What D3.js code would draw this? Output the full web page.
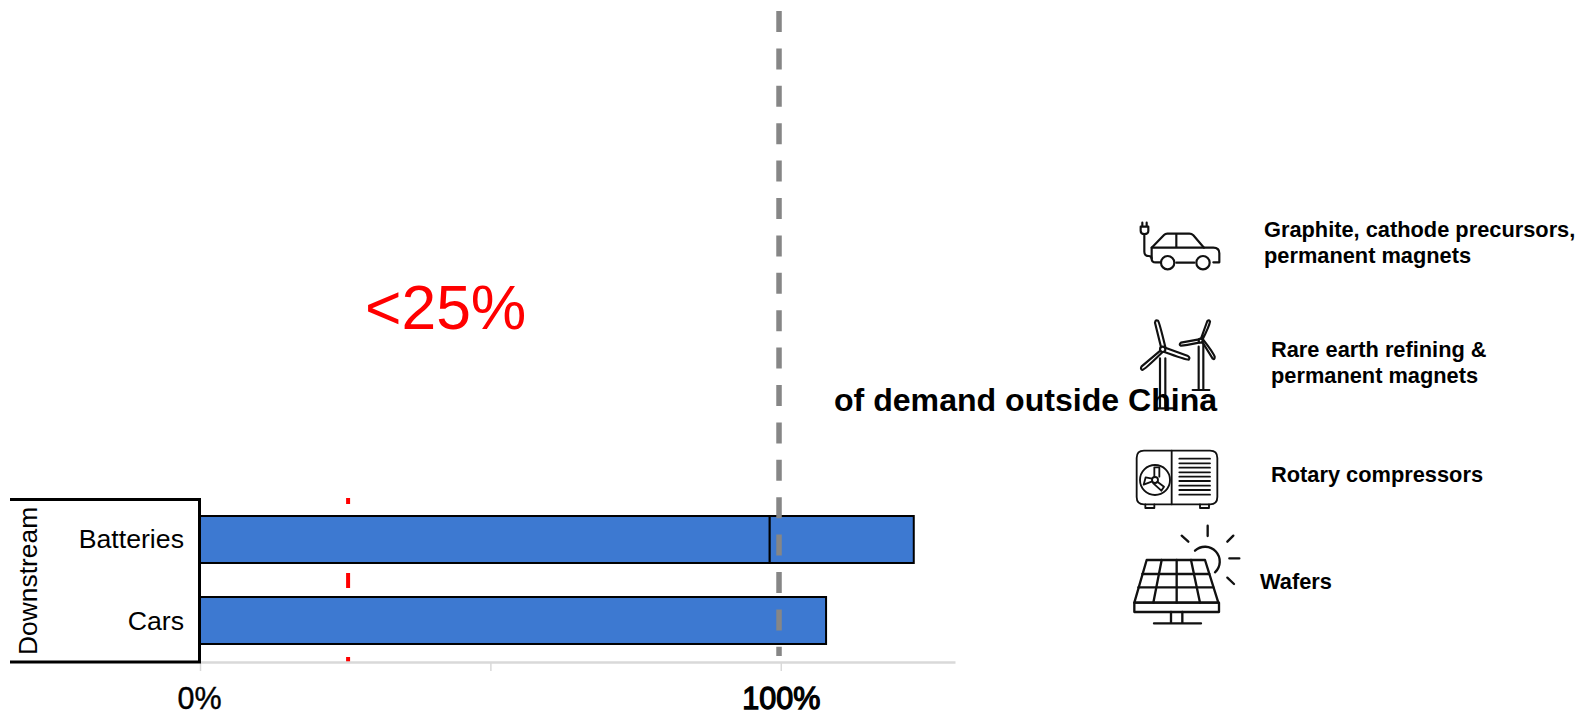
<!DOCTYPE html>
<html>
<head>
<meta charset="utf-8">
<script src="https://cdn.jsdelivr.net/npm/d3@7/dist/d3.min.js"></script>
<style>
html,body{margin:0;padding:0;background:#fff;overflow:hidden}
svg{display:block}
text{font-family:"Liberation Sans",Arial,sans-serif}
</style>
</head>
<body>
<svg id="chart" width="1579" height="712"></svg>
<script>
const categories = ["Batteries", "Cars"];
const firstSegment = [98.1, 107.8];
const secondSegment = [24.8, 0];
const axisTicks = [0, 50, 100];
const labelledTicks = [0, 100];
const thresholdValue = 25.5;
const fullDemandValue = 99.7;
const groupLabel = "Downstream";
const calloutLabel = "<25%";
const calloutCaption = "of demand outside China";
const inputLabels = [
  {lines:["Graphite, cathode precursors,","permanent magnets"], x:1264, y:237},
  {lines:["Rare earth refining &","permanent magnets"], x:1271, y:357},
  {lines:["Rotary compressors"], x:1271, y:482},
  {lines:["Wafers"], x:1260, y:589}
];

const svg = d3.select("#chart");
const x = d3.scaleLinear().domain([0,130]).range([200,955]);
const y = d3.scaleBand().domain(categories).range([499,661]).paddingInner(0.42).paddingOuter(0.21);
const axisY = 662;

// threshold line (beneath the bars)
svg.append("line")
  .attr("x1",x(thresholdValue)).attr("x2",x(thresholdValue))
  .attr("y1",axisY).attr("y2",498)
  .attr("stroke","#ff0000").attr("stroke-width",4)
  .attr("stroke-dasharray","5,69,15,69,6");

// axis
const axis = d3.axisBottom(x).tickValues(axisTicks).tickSizeInner(9).tickSizeOuter(0)
  .tickFormat(d => labelledTicks.includes(d) ? d + "%" : "");
const gAxis = svg.append("g").attr("transform",`translate(0,${axisY})`).call(axis);
gAxis.select(".domain").attr("stroke","#d9d9d9").attr("stroke-width",2.5);
gAxis.selectAll(".tick line").attr("stroke","#d9d9d9").attr("stroke-width",1.5);
gAxis.selectAll(".tick text")
  .attr("fill","#000").attr("font-size",30.5)
  .style("font-family",'"Liberation Sans",Arial,sans-serif')
  .attr("stroke","#000")
  .attr("stroke-width",d => d===100 ? 1.3 : 0.4)
  .attr("dy",null).attr("y",47).attr("x",d => d===0 ? -1 : 0);

// bars
const segments = categories.flatMap((c,i) => [
  {c, start:0, value:firstSegment[i]},
  {c, start:firstSegment[i], value:secondSegment[i]}
]).filter(d => d.value > 0);
svg.append("g").selectAll("rect").data(segments).join("rect")
  .attr("x",d => x(d.start))
  .attr("y",d => y(d.c))
  .attr("width",d => x(d.start+d.value)-x(d.start))
  .attr("height",y.bandwidth())
  .attr("fill","#3d79d1")
  .attr("stroke","#000").attr("stroke-width",2);

// reference line at full demand
svg.append("line")
  .attr("x1",x(fullDemandValue)).attr("x2",x(fullDemandValue))
  .attr("y1",11).attr("y2",656)
  .attr("stroke","#868686").attr("stroke-width",5.5)
  .attr("stroke-dasharray","21,16.4");

// label frame
svg.append("path")
  .attr("d",`M10,499.5H199.5V662H10`)
  .attr("fill","none").attr("stroke","#000").attr("stroke-width",3);
svg.append("g").selectAll("text").data(categories).join("text")
  .attr("x",184)
  .attr("y",d => y(d)+y.bandwidth()/2+ (d==="Batteries" ? 8 : 9))
  .attr("text-anchor","end").attr("font-size",26.7).attr("fill","#000")
  .text(d => d);
svg.append("text")
  .attr("transform","translate(36.5,655) rotate(-90)")
  .attr("font-size",26.4).attr("fill","#000")
  .text(groupLabel);

// callout
svg.append("text").attr("x",365).attr("y",329)
  .attr("font-size",62.4).attr("fill","#ff0000").text(calloutLabel);

// icons, drawn in crop units
const ink = {fill:"none",stroke:"#111","stroke-linecap":"round","stroke-linejoin":"round"};
function icon(tx,ty,width,paths){
  const g = svg.append("g").attr("transform",`translate(${tx},${ty}) scale(${1/3})`).attr("stroke-width",width);
  Object.entries(ink).forEach(([k,v]) => g.attr(k,v));
  paths.forEach(d => g.append("path").attr("d",d));
}
const circle = (cx,cy,r) => `M${cx-r},${cy}a${r},${r} 0 1,0 ${2*r},0a${r},${r} 0 1,0 ${-2*r},0Z`;

// electric car
icon(1100,200,6.5,[
  "M127,68V80M140,68V80M122,80H145V92Q145,102 133,102Q122,102 122,92Z",
  "M133,102V155Q133,168 146,168Q155,168 155,176",
  "M182,187H167Q155,187 155,176V143L192,105Q196,101 202,101H268Q275,101 280,106L312,143H340Q358,143 358,160V187H340",
  "M155,143H312M229,102V143M229,188H283",
  circle(203,188,20), circle(309,188,20)
]);
// wind turbines
icon(1100,200,6.5,[
  circle(188,448,8),
  "M183,441L165,368Q167,358 174,362Q178,366 196,441",
  "M196,443L262,467Q272,473 266,479Q260,480 193,456",
  "M181,452L125,499Q120,507 127,510Q133,510 187,457",
  "M180,475V625M196,475V625M170,625H225",
  circle(302,422,6),
  "M303,416L322,363Q328,358 330,365Q328,378 308,418",
  "M297,418L243,428Q236,433 242,437Q250,438 297,428",
  "M307,426L338,476Q345,480 344,470Q340,458 309,418",
  "M296,440V570M310,432V570M278,570H328"
]);
// heat pump
icon(1100,430,5.5,[
  "M132,62H330Q352,62 352,84V201Q352,223 330,223H132Q110,223 110,201V84Q110,62 132,62Z",
  "M215,62V223",
  circle(165,150,45),
  circle(165,150,9),
  "M163,141V112H178V140",
  "M157,154L131,164L137,142L156,146",
  "M172,155L192,170L184,182L160,160",
  "M238,86H330M238,100H330M238,113H330M238,127H330M238,140H330M238,153H330M238,167H330M238,180H330M238,194H330",
  "M136,223V234H163V223M300,223V234H327V223"
]);
// solar panel
icon(1100,430,7,[
  "M140,390H315L355,518H103Z",
  "M103,518H357V546H103Z",
  "M127,432H328M115,472H340",
  "M230,390V518M185,390L160,518M273,390L300,518",
  "M213,546V580M247,546V580M162,580H303",
  "M285,362A43,43 0 1,1 345,427",
  "M323,287V318M245,317L265,335M400,317L382,335M388,385H418M382,443L402,462"
]);

// labels on the right
const labels = svg.append("g").selectAll("text").data(inputLabels).join("text")
  .attr("font-size",21.8).attr("font-weight","bold").attr("fill","#000");
labels.selectAll("tspan").data(d => d.lines.map((t,i) => ({t,i,x:d.x,y:d.y}))).join("tspan")
  .attr("x",d => d.x).attr("y",d => d.y+d.i*26).text(d => d.t);

svg.append("text").attr("x",834).attr("y",411)
  .attr("font-size",32.1).attr("font-weight","bold").attr("fill","#000").text(calloutCaption);
</script>
</body>
</html>
